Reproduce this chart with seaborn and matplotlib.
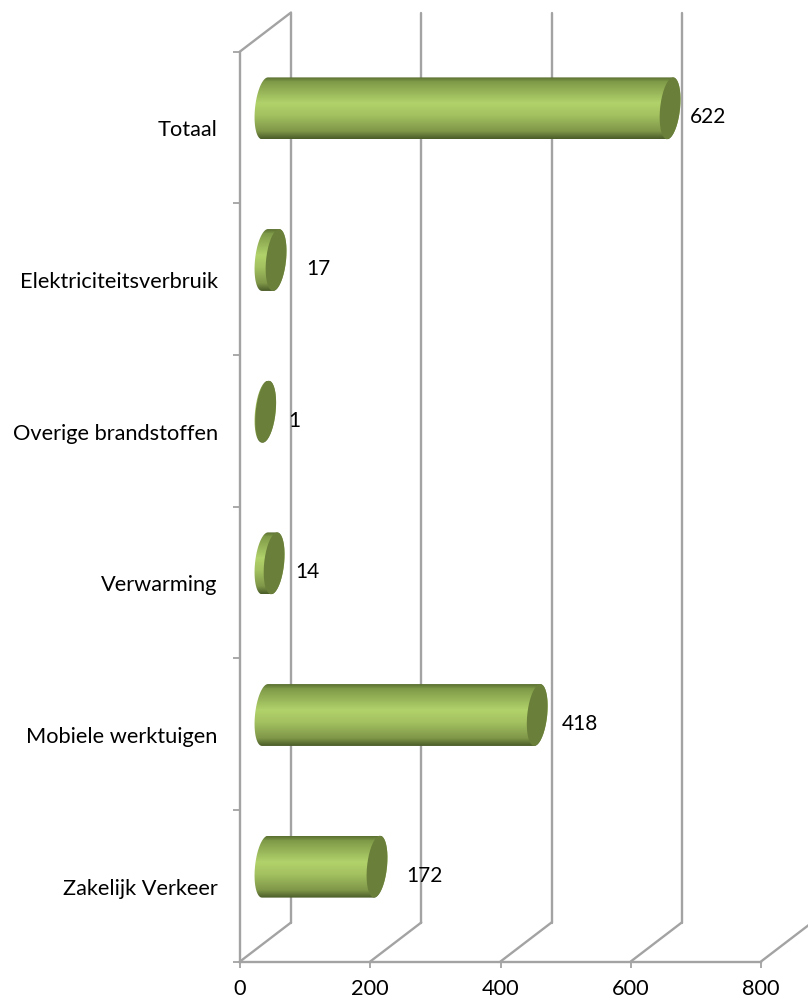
import numpy as np
import matplotlib
matplotlib.use('Agg')
import matplotlib.pyplot as plt
import seaborn as sns
from matplotlib.colors import LinearSegmentedColormap
from matplotlib.patches import PathPatch
from matplotlib.path import Path
from matplotlib.transforms import ScaledTranslation

# Chart data
categories = ['Totaal', 'Elektriciteitsverbruik', 'Overige brandstoffen',
              'Verwarming', 'Mobiele werktuigen', 'Zakelijk Verkeer']
values = [622, 17, 1, 14, 418, 172]
x_ticks = [0, 200, 400, 600, 800]

# Label nudges in pixels (x from bar end, y upwards)
label_dx = [45, 55, 48, 46, 50, 54]
label_dy = 11

sns.set_theme(style='white')
plt.rcParams['font.family'] = ['Lato', 'DejaVu Sans']

GREY = '#a3a3a3'
CAP = '#6a7f3a'
shade = LinearSegmentedColormap.from_list('cyl', [
    (0.00, '#5a7030'), (0.07, '#7f9a48'), (0.42, '#b1d26b'), (0.62, '#a3c160'),
    (0.88, '#7e9648'), (1.00, '#4b5c28')])

fig = plt.figure(figsize=(8.08, 10.03), dpi=100)
ax = fig.add_axes([240 / 808, 1 - 962.5 / 1003, 521 / 808, 910 / 1003])

sns.barplot(x=values, y=categories, orient='h', width=0.408, color='#9ab85a', ax=ax)
ax.set_xlim(0, 800)
ax.set_ylim(5.5, -0.5)

# 3D look: half depth for the bars, full depth for the back wall
px = fig.dpi_scale_trans
mid = ax.transData + ScaledTranslation(25 / 100, 19 / 100, px)
back = ax.transData + ScaledTranslation(51 / 100, 39 / 100, px)
x_per_px = 800 / 521
rx = 10 * x_per_px
skew = 3 * x_per_px

for tick in x_ticks:
    if tick < 800:
        ax.plot([tick, tick], [5.5, -0.5], color=GREY, lw=1.7, transform=back,
                clip_on=False, zorder=1)
    ax.plot([tick, tick + 51 * x_per_px], [5.5, 5.5 - 39 / 151.7], color=GREY, lw=1.7,
            clip_on=False, zorder=1)
ax.plot([0, 51 * x_per_px], [-0.5, -0.5 - 39 / 151.7], color=GREY, lw=1.7,
        clip_on=False, zorder=1)


def half_ellipse(cx, cy, ry, start, stop):
    t = np.radians(np.linspace(start, stop, 40))
    return np.column_stack([cx + rx * np.cos(t) - skew * np.sin(t), cy + ry * np.sin(t)])


for i, (bar, val) in enumerate(zip(list(ax.patches), values)):
    bar.set_visible(False)
    y0 = bar.get_y()
    ry = bar.get_height() / 2
    cy = y0 + ry
    x1 = bar.get_x() + bar.get_width()

    outline = np.vstack([half_ellipse(x1, cy, ry, -90, 90), half_ellipse(0, cy, ry, 90, 270)])
    body = PathPatch(Path(np.vstack([outline, outline[:1]]), closed=True), fc='none', ec='none',
                     transform=mid, zorder=2, clip_on=False)
    ax.add_patch(body)
    img = ax.imshow(np.linspace(0, 1, 120)[:, None], cmap=shade, aspect='auto',
                    extent=(-40, x1 + 40, y0 + 2 * ry, y0), transform=mid, zorder=2,
                    interpolation='bilinear')
    img.set_clip_path(body)

    cap = half_ellipse(x1, cy, ry, 0, 360)
    ax.add_patch(plt.Polygon(cap, fc=CAP, ec='none', transform=mid, zorder=3, clip_on=False))

    ax.annotate(str(val), xy=(val, i), xytext=(label_dx[i] * 0.72, label_dy * 0.72),
                textcoords='offset points', ha='left', va='center', fontsize=15, color='black',
                zorder=5)

ax.set_xlim(0, 800)
ax.set_ylim(5.5, -0.5)

# Axes
for side in ['top', 'right']:
    ax.spines[side].set_visible(False)
for side in ['left', 'bottom']:
    ax.spines[side].set_color(GREY)
    ax.spines[side].set_linewidth(1.7)

ax.set_xticks(x_ticks)
ax.set_yticks(range(len(categories)))
ax.set_yticklabels(categories)
ax.set_yticks(np.arange(-0.5, 6), minor=True)
ax.tick_params(axis='y', which='major', length=0, pad=16, labelsize=15.7, labelcolor='black')
ax.tick_params(axis='y', which='minor', length=5, width=1.3, color=GREY, left=True)
ax.tick_params(axis='x', length=4, width=1.3, color=GREY, bottom=True, pad=8, labelsize=15.7,
               labelcolor='black')
ax.set_xlabel('')
ax.set_ylabel('')
ax.patch.set_alpha(0)

fig.savefig('out.png', dpi=100)
